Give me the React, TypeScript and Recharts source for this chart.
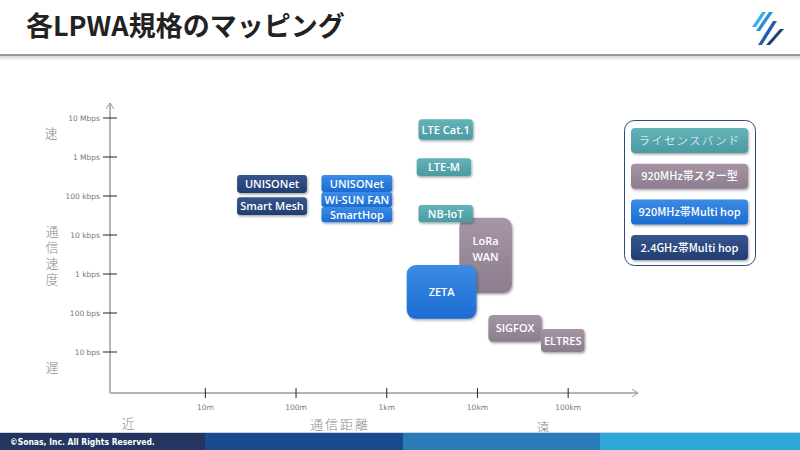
import React from 'react'
import { ScatterChart, Scatter, XAxis, YAxis, ReferenceArea, ReferenceLine } from 'recharts'

// 距離・速度は log10 (m, bps) で保持
const names = ['LoRa\nWAN', 'UNISONet', 'Smart Mesh', 'UNISONet', 'Wi-SUN FAN', 'SmartHop', 'LTE Cat.1', 'LTE-M', 'NB-IoT', 'ZETA', 'SIGFOX', 'ELTRES']
const groups = [1, 3, 3, 2, 2, 2, 0, 0, 0, 2, 1, 1]
const distFrom = [3.8, 1.35, 1.35, 2.28, 2.28, 2.28, 3.35, 3.33, 3.35, 3.22, 4.12, 4.7]
const distTo = [4.38, 2.12, 2.12, 3.06, 3.06, 3.06, 3.95, 3.93, 3.95, 3.99, 4.71, 5.18]
const speedFrom = [2.51, 5.08, 4.51, 5.1, 4.72, 4.33, 6.44, 5.51, 4.33, 1.85, 1.26, 1.0]
const speedTo = [4.44, 5.54, 4.97, 5.54, 5.1, 4.72, 6.97, 5.97, 4.77, 3.23, 1.95, 1.59]

const groupNames = ['ライセンスバンド', '920MHz帯スター型', '920MHz帯Multi hop', '2.4GHz帯Multi hop']
const groupTop = ['#63b3b8', '#a595a5', '#3b8ce4', '#37558f']
const groupBottom = ['#4a9ba2', '#8c7d8e', '#1d6cd2', '#223d70']

const xTicks = [1, 2, 3, 4, 5]
const xTickLabels = ['10m', '100m', '1km', '10km', '100km']
const yTicks = [1, 2, 3, 4, 5, 6, 7]
const yTickLabels = ['10 bps', '100 bps', '1 kbps', '10 kbps', '100 kbps', '1 Mbps', '10 Mbps']

const X_MIN = -0.051
const X_MAX = 5.77
const Y_MIN = -0.051
const Y_MAX = 7.385

const centers = names.map((_, i) => ({ x: (distFrom[i] + distTo[i]) / 2, y: (speedFrom[i] + speedTo[i]) / 2 }))

const boxFont = "'Open Sans', 'Noto Sans', sans-serif"
const jpFont = "'Noto Sans CJK JP', 'Noto Sans', sans-serif"

function makeBoxShape(i: number) {
  return function BoxShape(props: { x?: number; y?: number; width?: number; height?: number }) {
    const x = props.x ?? 0
    const y = props.y ?? 0
    const w = props.width ?? 0
    const h = props.height ?? 0
    const rx = Math.min(9, Math.max(3, Math.min(w, h) * 0.17))
    const lines = names[i].split('\n')
    const lh = 16
    const cy = y + h / 2 - (lines.length > 1 ? 6 : 0)
    return (
      <g>
        <rect x={x} y={y} width={w} height={h} rx={rx} fill={`url(#grad${groups[i]})`} filter="url(#boxShadow)" />
        {lines.map((t, k) => (
          <text
            key={k}
            x={x + w / 2}
            y={cy + (k - (lines.length - 1) / 2) * lh}
            dy={4}
            textAnchor="middle"
            fontSize={11}
            fontWeight={600}
            fontFamily={boxFont}
            fill="#fff"
          >
            {t}
          </text>
        ))}
      </g>
    )
  }
}

function YTick(props: { x?: number; y?: number; payload?: { value: number } }) {
  const x = props.x ?? 0
  const y = props.y ?? 0
  const idx = yTicks.indexOf(props.payload?.value ?? -1)
  return (
    <g>
      <line x1={x - 7} x2={x + 7} y1={y} y2={y} stroke="#222" strokeWidth={1} />
      <text x={x - 10} y={y} dy={3} textAnchor="end" fontSize={7.5} fill="#777" fontFamily="'DejaVu Sans', sans-serif">
        {yTickLabels[idx]}
      </text>
    </g>
  )
}

function XTick(props: { x?: number; y?: number; payload?: { value: number } }) {
  const x = props.x ?? 0
  const y = props.y ?? 0
  const idx = xTicks.indexOf(props.payload?.value ?? -1)
  return (
    <g>
      <line x1={x} x2={x} y1={y - 5} y2={y + 5} stroke="#222" strokeWidth={1} />
      <text x={x} y={y + 17} textAnchor="middle" fontSize={7.5} fill="#777" fontFamily="'DejaVu Sans', sans-serif">
        {xTickLabels[idx]}
      </text>
    </g>
  )
}

function Logo() {
  return (
    <g>
      <polygon points="762,12 766,12 756,27 752,27" fill="#3bb0e6" />
      <polygon points="769,12 773,12 760,31 756,31" fill="#2b8fd6" />
      <polygon points="773,21 777,21 762,45 758,45" fill="#1f5fb0" />
      <polygon points="780,29 784,29 770,45 766,45" fill="#1f3f7a" />
    </g>
  )
}

export default function App() {
  const footer = ['#24365f', '#1a4b8f', '#2a7bb7', '#2fa8da']
  return (
    <div style={{ position: 'relative', width: 800, height: 450, background: '#fff', overflow: 'hidden' }}>
      <style>{'body{margin:0}'}</style>
      <ScatterChart width={800} height={450} margin={{ top: 103, right: 162, bottom: 27, left: 50 }}>
        <defs>
          {groupTop.map((c, g) => (
            <linearGradient key={g} id={`grad${g}`} x1="0" y1="0" x2="0" y2="1">
              <stop offset="0%" stopColor={c} />
              <stop offset="100%" stopColor={groupBottom[g]} />
            </linearGradient>
          ))}
          <filter id="boxShadow" x="-20%" y="-20%" width="140%" height="150%">
            <feDropShadow dx="1" dy="1.5" stdDeviation="1.2" floodColor="#000" floodOpacity="0.35" />
          </filter>
          <marker id="arrow" markerWidth="10" markerHeight="10" refX="6" refY="4" orient="auto" markerUnits="userSpaceOnUse">
            <path d="M0,0 L6,4 L0,8" fill="none" stroke="#999" strokeWidth={1} />
          </marker>
        </defs>
        <XAxis
          type="number" dataKey="x" domain={[X_MIN, X_MAX]} ticks={xTicks} allowDataOverflow
          axisLine={false} tickLine={false} tickSize={0} tickMargin={0} height={30} tick={<XTick />}
          interval={0}
        />
        <YAxis
          type="number" dataKey="y" domain={[Y_MIN, Y_MAX]} ticks={yTicks} allowDataOverflow
          axisLine={false} tickLine={false} tickSize={0} tickMargin={0} width={60} tick={<YTick />}
          interval={0}
        />
        <ReferenceLine
          segment={[{ x: X_MIN, y: Y_MIN }, { x: X_MIN, y: Y_MAX }]}
          stroke="#b5b5b5" strokeWidth={2} ifOverflow="visible" markerEnd="url(#arrow)"
        />
        <ReferenceLine
          segment={[{ x: X_MIN, y: Y_MIN }, { x: X_MAX, y: Y_MIN }]}
          stroke="#b5b5b5" strokeWidth={2} ifOverflow="visible" markerEnd="url(#arrow)"
        />
        {names.map((_, i) => (
          <ReferenceArea
            key={i}
            x1={distFrom[i]} x2={distTo[i]} y1={speedFrom[i]} y2={speedTo[i]}
            ifOverflow="visible"
            shape={makeBoxShape(i)}
          />
        ))}
        <Scatter data={centers} fill="none" shape={() => <g />} isAnimationActive={false} />
      </ScatterChart>

      <svg width={800} height={450} style={{ position: 'absolute', left: 0, top: 0, pointerEvents: 'none' }}>
        <defs>
          <linearGradient id="titleShade" x1="0" y1="0" x2="0" y2="1">
            <stop offset="0%" stopColor="#d8d8d8" />
            <stop offset="100%" stopColor="#ffffff" />
          </linearGradient>
          {groupTop.map((c, g) => (
            <linearGradient key={g} id={`lgrad${g}`} x1="0" y1="0" x2="0" y2="1">
              <stop offset="0%" stopColor={c} />
              <stop offset="100%" stopColor={groupBottom[g]} />
            </linearGradient>
          ))}
          <filter id="legShadow" x="-20%" y="-20%" width="140%" height="160%">
            <feDropShadow dx="1" dy="1.5" stdDeviation="1.2" floodColor="#000" floodOpacity="0.35" />
          </filter>
        </defs>
        <text x={26} y={36} fontSize={27} fontWeight={700} fontFamily={jpFont} fill="#222">各LPWA規格のマッピング</text>
        <rect x={0} y={56} width={800} height={5} fill="url(#titleShade)" />
        <rect x={0} y={54} width={800} height={2} fill="#9a9a9a" />
        <Logo />

        <g fontFamily={jpFont} fontSize={13} fontWeight={300} fill="#8c8c8c">
          <text x={51} y={138} textAnchor="middle">速</text>
          <text x={52} y={225} style={{ writingMode: 'vertical-rl' }} letterSpacing={2.7}>通信速度</text>
          <text x={52} y={372} textAnchor="middle">遅</text>
          <text x={128} y={428} textAnchor="middle">近</text>
          <text x={340} y={429} textAnchor="middle" letterSpacing={2}>通信距離</text>
          <text x={543} y={432} textAnchor="middle">遠</text>
        </g>

        <rect x={624.5} y={120.5} width={131} height={145} rx={10} fill="#fff" stroke="#2c4a7a" strokeWidth={1} />
        {groupNames.map((n, g) => (
          <g key={g}>
            <rect x={631} y={128 + g * 35.7} width={117} height={25} rx={4} fill={`url(#lgrad${g})`} filter="url(#legShadow)" />
            <text
              x={689.5} y={128 + g * 35.7 + 16.5} textAnchor="middle" fontSize={g === 0 ? 11.5 : 11}
              fontWeight={g === 0 ? 300 : 500} letterSpacing={g === 0 ? 1.2 : 0}
              fontFamily={jpFont} fill="#fff"
            >
              {n}
            </text>
          </g>
        ))}

        <rect x={0} y={432} width={800} height={1} fill="#c8d4e0" />
        {footer.map((c, k) => (
          <rect key={k} x={k * 200 + (k === 1 ? 5 : k === 2 ? 3 : 0)} y={433} width={200 + (k === 0 ? 5 : k === 1 ? -2 : 0)} height={17} fill={c} />
        ))}
        <text x={10} y={445} fontSize={8.5} fontWeight={700} fill="#fff" fontFamily="'Liberation Sans Narrow', 'DejaVu Sans Condensed', sans-serif">
          ©Sonas, Inc. All Rights Reserved.
        </text>
      </svg>
    </div>
  )
}
